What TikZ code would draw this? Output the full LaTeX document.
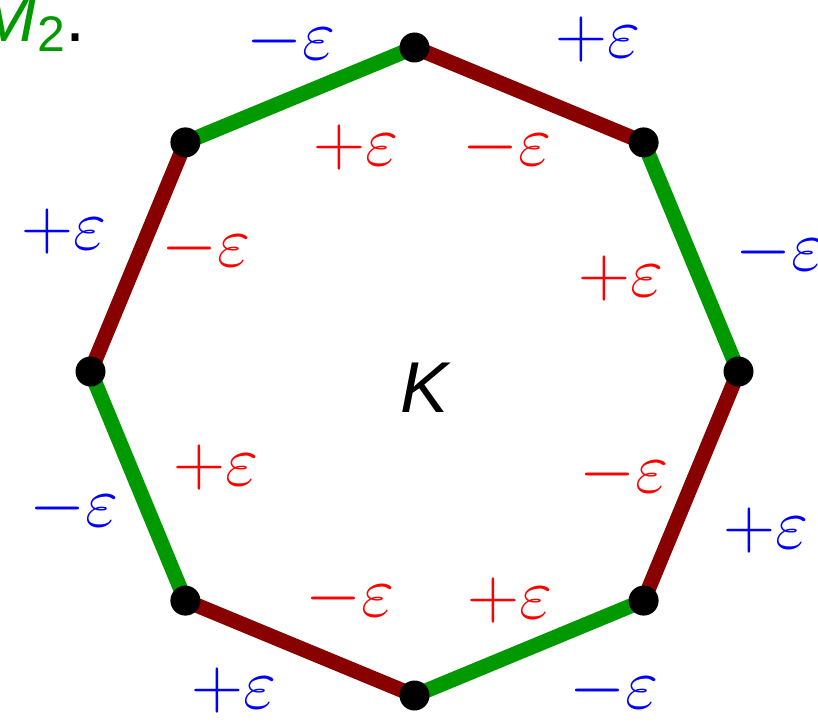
\RequirePackage{fix-cm}
\documentclass[tikz,border=0pt]{standalone}
\usepackage[no-math]{fontspec}
\setmainfont{Liberation Sans}
\usetikzlibrary{positioning,calc}

\definecolor{edgegreen}{RGB}{0,153,0}
\definecolor{edgered}{RGB}{136,0,0}

\begin{document}
\begin{tikzpicture}[
  x=0.5pt, y=-0.5pt,
  font=\fontsize{36}{40}\selectfont,
  vertex/.style={circle, fill=black, inner sep=0pt, minimum size=15pt},
  gedge/.style={line width=7.5pt, edgegreen},
  redge/.style={line width=7.5pt, edgered},
  outer/.style={blue, inner sep=0pt},
  inner/.style={red, inner sep=0pt}
]
  \useasboundingbox (0,0) rectangle (818,722);
  \clip (0,0) rectangle (818,722);

  % octagon corners, v0 on top, going clockwise
  \foreach \i in {0,...,7}
    \coordinate (c\i) at ($(414.5,371.5)+({90+45*\i}:324)$);

  % edges alternate red / green
  \draw[redge] (c0) -- (c1);
  \draw[gedge] (c1) -- (c2);
  \draw[redge] (c2) -- (c3);
  \draw[gedge] (c3) -- (c4);
  \draw[redge] (c4) -- (c5);
  \draw[gedge] (c5) -- (c6);
  \draw[redge] (c6) -- (c7);
  \draw[gedge] (c7) -- (c0);

  \foreach \i in {0,...,7}
    \node[vertex] (v\i) at (c\i) {};

  \node (k) at (425,388) {\itshape K};

  % signs outside the octagon
  \node[outer] (o1) at (291,42) {$-\varepsilon$};
  \node[outer] (o2) at (598,40) {$+\varepsilon$};
  \node[outer] (o3) at (780,252) {$-\varepsilon$};
  \node[outer] (o4) at (766,530) {$+\varepsilon$};
  \node[outer] (o5) at (614,690) {$-\varepsilon$};
  \node[outer] (o6) at (234,690) {$+\varepsilon$};
  \node[outer] (o7) at (74,508) {$-\varepsilon$};
  \node[outer] (o8) at (64,232) {$+\varepsilon$};

  % signs inside the octagon
  \node[inner] (i1) at (356,148) {$+\varepsilon$};
  \node[inner] (i2) at (507,147) {$-\varepsilon$};
  \node[inner] (i3) at (621,278) {$+\varepsilon$};
  \node[inner] (i4) at (624,474) {$-\varepsilon$};
  \node[inner] (i5) at (510,600) {$+\varepsilon$};
  \node[inner] (i6) at (350,598) {$-\varepsilon$};
  \node[inner] (i7) at (216,467) {$+\varepsilon$};
  \node[inner] (i8) at (206,248) {$-\varepsilon$};

  % cut-off label in the corner
  \node[inner sep=0pt, anchor=base east] (m2) at (86,42)
    {{\color{edgegreen}\itshape M\upshape\raisebox{-5pt}{\fontsize{25}{25}\selectfont 2}}.};
\end{tikzpicture}
\end{document}
